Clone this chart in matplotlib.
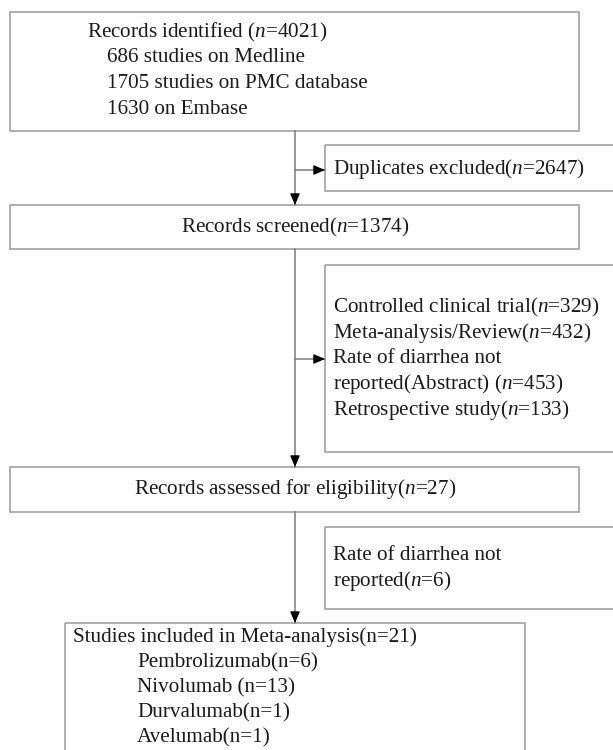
import matplotlib.pyplot as plt
from matplotlib.patches import Rectangle

plt.rcParams['font.family'] = ['Liberation Serif', 'DejaVu Serif']
plt.rcParams['mathtext.fontset'] = 'custom'
plt.rcParams['mathtext.rm'] = 'Liberation Serif'
plt.rcParams['mathtext.it'] = 'Liberation Serif:italic'

# flowchart texts and counts
n_identified = 4021
sources = ['686 studies on Medline', '1705 studies on PMC database', '1630 on Embase']
n_duplicates = 2647
n_screened = 1374
excl_reasons = ['Controlled clinical trial', 'Meta-analysis/Review',
                'Rate of diarrhea not\nreported(Abstract) ', 'Retrospective study']
excl_counts = [329, 432, 453, 133]
n_eligible = 27
n_not_reported = 6
n_included = 21
drugs = ['Pembrolizumab', 'Nivolumab ', 'Durvalumab', 'Avelumab']
drug_counts = [6, 13, 1, 1]

box_col = '#9a9a9a'
line_col = '#7a7a7a'
txt_col = '#1a1a1a'
fs = 15.2

fig = plt.figure(figsize=(6.13, 7.5), dpi=100)
ax = fig.add_axes([0, 0, 1, 1])
ax.set_xlim(0, 613)
ax.set_ylim(750, 0)
ax.axis('off')


def box(x0, y0, x1, y1):
    ax.add_patch(Rectangle((x0, y0), x1 - x0, y1 - y0, fill=False,
                           edgecolor=box_col, linewidth=1.1))


def txt(x, y, s, ha='left'):
    ax.text(x, y, s, ha=ha, va='center', fontsize=fs, color=txt_col)


def arrow(x0, y0, x1, y1):
    ax.plot([x0, x1], [y0, y1], color=line_col, lw=1.1)
    dx = 0 if x0 == x1 else 9
    dy = 0 if y0 == y1 else 9
    ax.annotate('', xy=(x1, y1), xytext=(x1 - dx, y1 - dy),
                arrowprops=dict(arrowstyle='-|>,head_length=0.7,head_width=0.3',
                                color='black', lw=0.8, shrinkA=0, shrinkB=0))


cx = 295

# identified
box(10, 12, 579, 131)
txt(87, 32, 'Records identified ($n$=%d)' % n_identified)
for i, s in enumerate(sources):
    txt(107, 57 + 26.5 * i, s)

# duplicates
arrow(cx, 131, cx, 205)
arrow(cx, 170, 325, 170)
box(325, 145, 640, 191)
txt(333, 169, 'Duplicates excluded($n$=%d)' % n_duplicates)

# screened
box(10, 205, 579, 249)
txt(cx, 227, 'Records screened($n$=%d)' % n_screened, ha='center')

# exclusions
arrow(cx, 249, cx, 467)
arrow(cx, 359, 325, 359)
box(325, 265, 640, 452)
lines = []
for r, c in zip(excl_reasons, excl_counts):
    lines.append('%s($n$=%d)' % (r, c))
for i, s in enumerate('\n'.join(lines).split('\n')):
    txt(333, 307 + 25.8 * i, s)

# eligibility
box(10, 467, 579, 512)
txt(cx, 489, 'Records assessed for eligibility($n$=%d)' % n_eligible, ha='center')

# not reported
arrow(cx, 512, cx, 623)
box(325, 527, 640, 609)
txt(333, 556, 'Rate of diarrhea not')
txt(333, 581, 'reported($n$=%d)' % n_not_reported)

# included
box(64.5, 623, 525, 780)
txt(73, 637, 'Studies included in Meta-analysis(n=%d)' % n_included)
for i, (d, c) in enumerate(zip(drugs, drug_counts)):
    txt(137, 663 + 25 * i, '%s(n=%d)' % (d, c))

plt.savefig('out.png', dpi=100, facecolor='white')
